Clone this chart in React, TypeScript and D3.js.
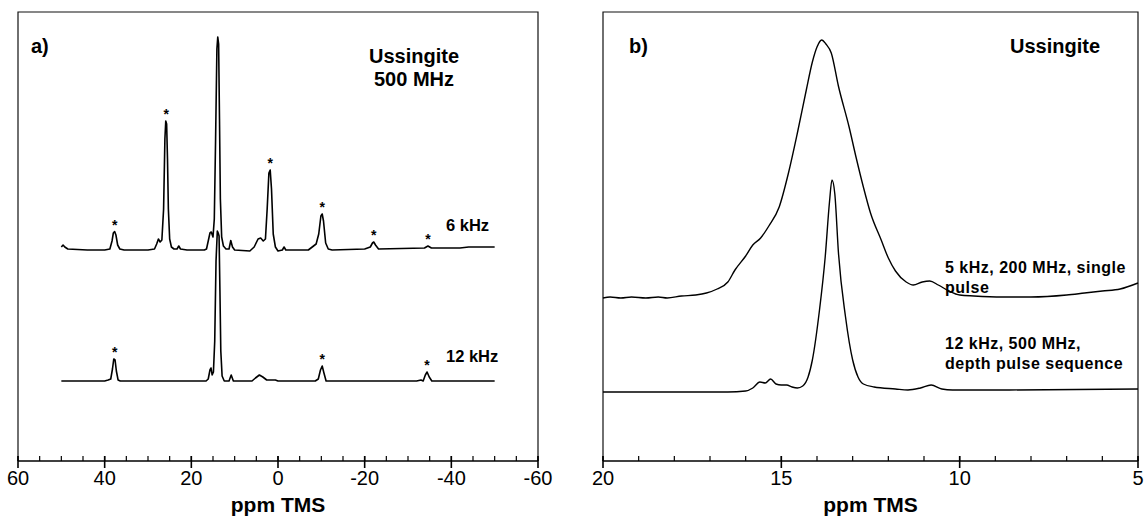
import React, { useEffect, useRef } from 'react'
import * as d3 from 'd3'

// panel a) : ppm vs intensity (arbitrary units, offset per trace)
const sixKhzTrace: [number, number][] = [
  [50, 2], [49.6, 4], [49.2, 2], [48.5, 0], [44, -1], [40, -1], [38.8, 0], [38.3, 8], [38.0, 16], [37.7, 17.5],
  [37.4, 14], [37.0, 4], [36.5, 0], [35.5, -1], [30, -1], [28.5, 0], [28.0, 5], [27.6, 10], [27.2, 7], [26.8, 9],
  [26.4, 40], [26.1, 110], [25.9, 128], [25.7, 125], [25.5, 90], [25.3, 40], [25.0, 10], [24.6, 2], [24, 0],
  [23.3, 0], [22.9, 3], [22.5, 0], [21, -1], [17, -1], [16.5, 0], [16.1, 8], [15.7, 16], [15.4, 17], [15.0, 12],
  [14.7, 30], [14.4, 110], [14.1, 200], [13.9, 212], [13.7, 205], [13.5, 130], [13.3, 50], [13.0, 12], [12.6, 3],
  [12.0, 0], [11.3, 0], [10.9, 8.5], [10.5, 2], [10.0, -1], [6.5, -2], [5.5, 2], [4.6, 10], [4.0, 11], [3.4, 8],
  [2.9, 10], [2.5, 40], [2.1, 76], [1.8, 79], [1.5, 60], [1.1, 15], [0.6, 2], [0, -2], [-1.0, -1], [-1.4, 2],
  [-1.8, -1], [-7, -1], [-8.2, 3], [-8.8, 5], [-9.4, 15], [-9.9, 33], [-10.2, 35], [-10.5, 28], [-11.0, 6],
  [-11.6, 0], [-12.5, -1], [-20, 0], [-21.3, 2], [-21.8, 6], [-22.1, 7], [-22.5, 4], [-23.2, 0], [-33.8, 1],
  [-34.6, 3], [-35.4, 1], [-42, 1], [-44, 2], [-50, 2]
]

const twelveKhzTrace: [number, number][] = [
  [50, 0], [40, 0], [39.2, 1], [38.6, 2], [38.2, 12], [37.9, 22], [37.6, 21], [37.3, 10], [36.9, 1], [36.4, 0],
  [16.6, 0], [16.1, 2], [15.7, 11], [15.45, 13], [15.2, 6], [14.9, 9], [14.6, 40], [14.3, 120], [14.0, 150],
  [13.8, 148], [13.6, 145], [13.4, 90], [13.2, 30], [12.9, 5], [12.4, 0], [11.3, 0], [10.8, 6], [10.3, 0],
  [6.0, 0], [5.2, 3], [4.3, 6], [3.5, 4], [2.6, 1], [0.6, 1], [0, 0], [-8.6, 0], [-9.3, 2], [-9.8, 11],
  [-10.2, 15], [-10.6, 8], [-11.1, 0], [-32, 0], [-33, 1], [-33.5, 0], [-34.0, 6], [-34.4, 9], [-34.9, 4],
  [-35.5, 0], [-50, 0]
]

// spinning sidebands marked with *
const sixKhzSidebands = [37.7, 25.8, 1.8, -10.2, -22.1, -34.6]
const twelveKhzSidebands = [37.7, -10.2, -34.4]

// panel b)
const singlePulseTrace: [number, number][] = [
  [20, 0], [19.8, 1], [19.5, 0], [19.2, 1], [18.8, 0], [18.45, 1], [18.2, 0], [17.8, 2], [17.4, 3], [17.1, 5],
  [16.8, 9], [16.5, 16], [16.3, 28], [16.0, 42], [15.8, 53], [15.58, 60], [15.35, 72], [15.06, 91], [14.8, 125],
  [14.55, 165], [14.3, 208], [14.13, 236], [14.0, 251], [13.87, 258], [13.75, 254], [13.6, 245], [13.4, 212],
  [13.1, 171], [12.9, 140], [12.7, 111], [12.5, 85], [12.2, 58], [12.0, 40], [11.8, 27], [11.5, 16], [11.3, 13],
  [11.05, 16], [10.84, 17], [10.6, 13], [10.3, 7], [10.0, 3], [9.6, 2], [8.8, 1], [8.0, 1], [7.0, 3], [6.5, 5],
  [6.0, 7], [5.5, 9], [5.0, 15]
]

const depthTrace: [number, number][] = [
  [20, 0], [18, 0], [16.5, 0], [16.0, 1], [15.8, 4], [15.6, 10], [15.45, 9], [15.3, 13], [15.15, 8], [15.0, 7],
  [14.85, 7], [14.7, 5], [14.55, 4], [14.4, 6], [14.25, 15], [14.13, 32], [13.93, 82], [13.77, 135], [13.65, 190],
  [13.58, 212], [13.5, 198], [13.4, 140], [13.2, 75], [13.0, 32], [12.85, 15], [12.7, 8], [12.4, 5], [11.8, 3],
  [11.45, 2], [11.1, 4], [10.8, 7], [10.5, 3], [10.2, 2], [9.0, 2], [5.0, 3]
]

const majorTicksA = [60, 40, 20, 0, -20, -40, -60]
const majorTicksB = [20, 15, 10, 5]

const FONT = '"Liberation Sans", Arial, Helvetica, sans-serif'

export default function App() {
  const node = useRef<SVGSVGElement>(null)

  useEffect(() => {
    const svg = d3.select(node.current)
    svg.selectAll('*').remove()

    const top = 12, axisY = 461
    const y = d3.scaleLinear([0, axisY - top], [axisY, top])

    const panels = [
      {
        x: d3.scaleLinear([60, -60], [18, 538]),
        majors: majorTicksA, minors: d3.range(-60, 61, 5),
        curve: d3.curveLinear, width: 1.6
      },
      {
        x: d3.scaleLinear([20, 5], [603, 1138]),
        majors: majorTicksB, minors: d3.range(5, 21, 1),
        curve: d3.curveMonotoneX, width: 1.4
      }
    ]

    panels.forEach(p => {
      const [x0, x1] = p.x.range()
      const g = svg.append('g')
      // frame
      g.append('path')
        .attr('d', `M${x0},${axisY}V${top}H${x1}V${axisY}`)
        .attr('fill', 'none').attr('stroke', '#111').attr('stroke-width', 1.2)
      g.append('line')
        .attr('x1', x0).attr('x2', x1).attr('y1', axisY).attr('y2', axisY)
        .attr('stroke', '#000').attr('stroke-width', 1.6)
      g.selectAll('.minor').data(p.minors).join('line')
        .attr('x1', d => p.x(d)).attr('x2', d => p.x(d))
        .attr('y1', axisY - 5).attr('y2', axisY)
        .attr('stroke', '#000').attr('stroke-width', 1.2)
      g.selectAll('.major').data(p.majors).join('line')
        .attr('x1', d => p.x(d)).attr('x2', d => p.x(d))
        .attr('y1', axisY - 5).attr('y2', axisY + 7)
        .attr('stroke', '#000').attr('stroke-width', 1.6)
      g.selectAll('.lbl').data(p.majors).join('text')
        .attr('x', d => p.x(d)).attr('y', axisY + 24)
        .attr('text-anchor', 'middle')
        .attr('font-family', FONT).attr('font-size', 20)
        .text(d => String(d))
      g.append('text')
        .attr('x', (x0 + x1) / 2).attr('y', 512)
        .attr('text-anchor', 'middle')
        .attr('font-family', FONT).attr('font-size', 21).attr('font-weight', 'bold')
        .text('ppm TMS')
    })

    const drawTrace = (p: typeof panels[0], data: [number, number][], offset: number) => {
      const line = d3.line<[number, number]>()
        .x(d => p.x(d[0]))
        .y(d => y(d[1] + offset))
        .curve(p.curve)
      svg.append('path')
        .datum(data)
        .attr('d', line)
        .attr('fill', 'none').attr('stroke', '#000')
        .attr('stroke-width', p.width).attr('stroke-linejoin', 'round')
    }

    const drawStars = (p: typeof panels[0], data: [number, number][], offset: number, ppms: number[]) => {
      svg.append('g').selectAll('text').data(ppms).join('text')
        .attr('x', d => p.x(d))
        .attr('y', d => {
          const apex = d3.max(data.filter(v => Math.abs(v[0] - d) < 0.8), v => v[1]) ?? 0
          return y(apex + offset) - 2
        })
        .attr('text-anchor', 'middle')
        .attr('font-family', FONT).attr('font-size', 14).attr('font-weight', 'bold')
        .text('*')
    }

    // panel a
    const pa = panels[0]
    drawTrace(pa, sixKhzTrace, 212)
    drawTrace(pa, twelveKhzTrace, 80)
    drawStars(pa, sixKhzTrace, 212, sixKhzSidebands)
    drawStars(pa, twelveKhzTrace, 80, twelveKhzSidebands)

    // panel b
    const pb = panels[1]
    drawTrace(pb, singlePulseTrace, 163)
    drawTrace(pb, depthTrace, 69)

    const label = (txt: string, x: number, yy: number, size: number, anchor = 'start', spacing = 0) =>
      svg.append('text')
        .attr('x', x).attr('y', yy)
        .attr('text-anchor', anchor)
        .attr('font-family', FONT).attr('font-size', size).attr('font-weight', 'bold')
        .attr('letter-spacing', spacing)
        .text(txt)

    label('a)', 31, 53, 20)
    label('Ussingite', 414, 63, 20, 'middle')
    label('500 MHz', 414, 86, 20, 'middle')
    label('6 kHz', 446, 231, 16.5)
    label('12 kHz', 446, 362, 16.5)

    label('b)', 629, 53, 20)
    label('Ussingite', 1055, 53, 20, 'middle')
    label('5 kHz, 200 MHz, single', 945, 273, 16, 'start', 0.5)
    label('pulse', 945, 293, 16, 'start', 0.5)
    label('12 kHz, 500 MHz,', 945, 349, 16, 'start', 0.5)
    label('depth pulse sequence', 945, 369, 16, 'start', 0.5)
  }, [])

  return (
    <svg ref={node} width={1145} height={517}
      style={{ position: 'absolute', left: 0, top: 0, background: '#fff' }} />
  )
}
